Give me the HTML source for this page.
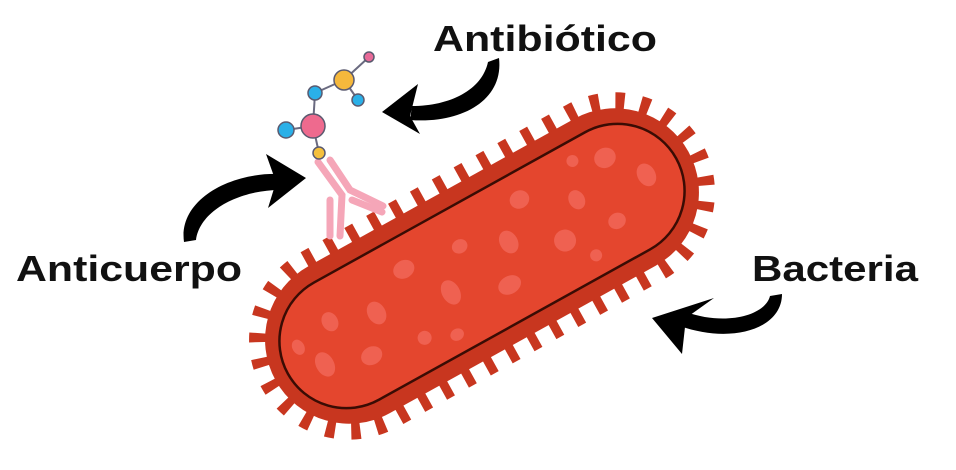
<!DOCTYPE html>
<html><head><meta charset="utf-8"><style>
body{margin:0;background:#fff;width:956px;height:470px;overflow:hidden}
svg{display:block}
text{font-family:"Liberation Sans",sans-serif;font-weight:bold;fill:#111}
</style></head><body>
<svg width="956" height="470" viewBox="0 0 956 470">
<g transform="translate(482,266) rotate(-29)">
  <rect x="-242" y="-90" width="484" height="180" rx="90" fill="none" stroke="#c8361f" stroke-width="20" stroke-dasharray="9 16"/>
  <rect x="-236" y="-84" width="472" height="168" rx="84" fill="#c8361f"/>
  <rect x="-222" y="-67" width="444" height="134" rx="67" fill="#e4462e" stroke="#3a0c04" stroke-width="2.5"/>
  <g fill="#f2685a" opacity="0.8">
    <ellipse cx="-185" cy="10" rx="9" ry="13"/><ellipse cx="-160" cy="-25" rx="8" ry="10"/>
    <ellipse cx="-140" cy="25" rx="11" ry="9"/><ellipse cx="-115" cy="-10" rx="9" ry="12"/>
    <ellipse cx="-85" cy="35" rx="7" ry="7"/><ellipse cx="-70" cy="-35" rx="11" ry="9"/>
    <ellipse cx="-40" cy="8" rx="9" ry="13"/><ellipse cx="-10" cy="-28" rx="8" ry="7"/>
    <ellipse cx="15" cy="30" rx="12" ry="9"/><ellipse cx="35" cy="-8" rx="9" ry="12"/>
    <ellipse cx="65" cy="-40" rx="10" ry="9"/><ellipse cx="85" cy="18" rx="11" ry="11"/>
    <ellipse cx="115" cy="-12" rx="8" ry="10"/><ellipse cx="140" cy="26" rx="9" ry="8"/>
    <ellipse cx="160" cy="-35" rx="11" ry="10"/><ellipse cx="188" cy="0" rx="9" ry="12"/>
    <ellipse cx="-200" cy="-18" rx="6" ry="8"/><ellipse cx="-55" cy="48" rx="7" ry="6"/>
    <ellipse cx="105" cy="46" rx="6" ry="6"/><ellipse cx="130" cy="-48" rx="6" ry="6"/>
  </g>
</g>
<!-- antibody -->
<g stroke="#f5a6b8" stroke-width="7" stroke-linecap="round" fill="none">
  <path d="M318 162 L342 195 L340 236"/>
  <path d="M330 160 L350 190 L383 206"/>
  <path d="M352 200 L382 212"/>
  <path d="M330 200 L330 236"/>
</g>
<!-- molecule -->
<g stroke="#6a6a80" stroke-width="2">
  <line x1="369" y1="57" x2="344" y2="80"/><line x1="344" y1="80" x2="315" y2="93"/>
  <line x1="344" y1="80" x2="358" y2="100"/><line x1="315" y1="93" x2="313" y2="126"/>
  <line x1="313" y1="126" x2="286" y2="130"/><line x1="313" y1="126" x2="319" y2="153"/>
</g>
<g stroke="#5a5a70" stroke-width="1.5">
  <circle cx="369" cy="57" r="5" fill="#e86a98"/>
  <circle cx="344" cy="80" r="10" fill="#f5b83c"/>
  <circle cx="315" cy="93" r="7" fill="#2ab0e8"/>
  <circle cx="358" cy="100" r="6" fill="#2ab0e8"/>
  <circle cx="313" cy="126" r="12" fill="#ee6a8e"/>
  <circle cx="286" cy="130" r="8" fill="#2ab0e8"/>
  <circle cx="319" cy="153" r="6" fill="#f5c03c"/>
</g>
<!-- arrows -->
<g fill="#000">
  <path d="M499 58 C504 100 462 124 410 120 L412 106 C450 106 482 90 488 62 Z"/>
  <path d="M382 112 L418 84 L410 116 L420 134 Z"/>
  <path d="M184 242 C178 200 230 172 280 174 L280 190 C240 190 200 210 196 240 Z"/>
  <path d="M306 178 L266 154 L276 182 L268 208 Z"/>
  <path d="M782 294 C782 330 730 344 680 326 L686 312 C725 326 765 316 770 296 Z"/>
  <path d="M652 318 L714 298 L686 318 L682 354 Z"/>
</g>
<text x="433" y="51" font-size="36" textLength="224" lengthAdjust="spacingAndGlyphs">Antibiótico</text>
<text x="16" y="281" font-size="36" textLength="226" lengthAdjust="spacingAndGlyphs">Anticuerpo</text>
<text x="752" y="281" font-size="36" textLength="166" lengthAdjust="spacingAndGlyphs">Bacteria</text>
</svg>
</body></html>
